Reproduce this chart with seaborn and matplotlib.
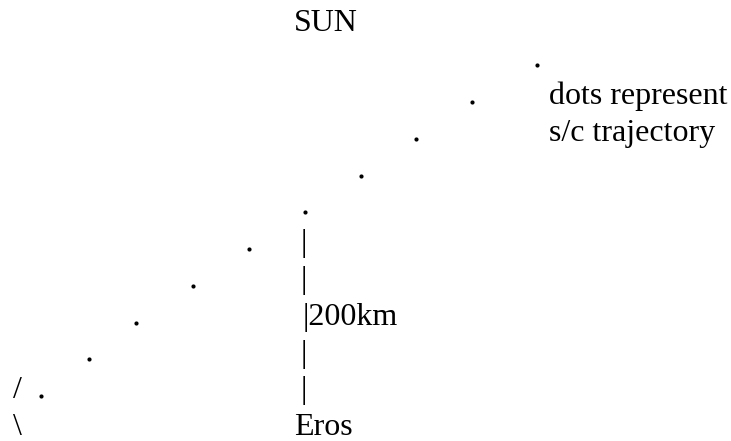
import seaborn as sns
import matplotlib.pyplot as plt
import pandas as pd

sns.set_style("white")
plt.rcParams['font.family'] = ['Liberation Serif', 'DejaVu Serif']

# spacecraft trajectory dots: text row and horizontal position (px)
traj_row = [1, 2, 3, 4, 5, 6, 7, 8, 9, 10]
traj_x = [536.7, 472.3, 416.3, 360.7, 304.7, 249.0, 193.0, 136.3, 88.7, 41.3]

# 200 km scale bar rows
bar_rows = [6, 7, 9, 10]
bar_label_row = 8
bar_x = 303.4

labels = ['SUN', 'dots represent', 's/c trajectory', 'Eros']
label_x = [294.0, 549.3, 549.3, 294.3]
label_row = [0, 2, 3, 11]

df = pd.DataFrame({'x': traj_x, 'row': [r - 0.06 for r in traj_row]})

fig = plt.figure(figsize=(7.31, 4.41), dpi=100)
ax = fig.add_axes([0, 0, 1, 1])

fs = 23.0
sns.scatterplot(data=df, x='x', y='row', ax=ax, color='black', s=9,
                linewidth=0, legend=False)

for t, x, r in zip(labels, label_x, label_row):
    ax.text(x, r, t, fontsize=fs, ha='left', va='baseline', color='black')

for r in bar_rows:
    ax.text(bar_x, r, '|', fontsize=fs, ha='center', va='baseline', color='black')
ax.text(bar_x - 0.8, bar_label_row, '|200km', fontsize=fs, ha='left',
        va='baseline', color='black')

# Eros limb
ax.text(17, 10, '/', fontsize=fs, ha='center', va='baseline', color='black')
ax.text(17, 11, '\\', fontsize=fs, ha='center', va='baseline', color='black')

ax.set_xlim(0, 731)
ax.set_ylim(11.16, -0.835)
ax.axis('off')

fig.savefig('out.png', dpi=100)
